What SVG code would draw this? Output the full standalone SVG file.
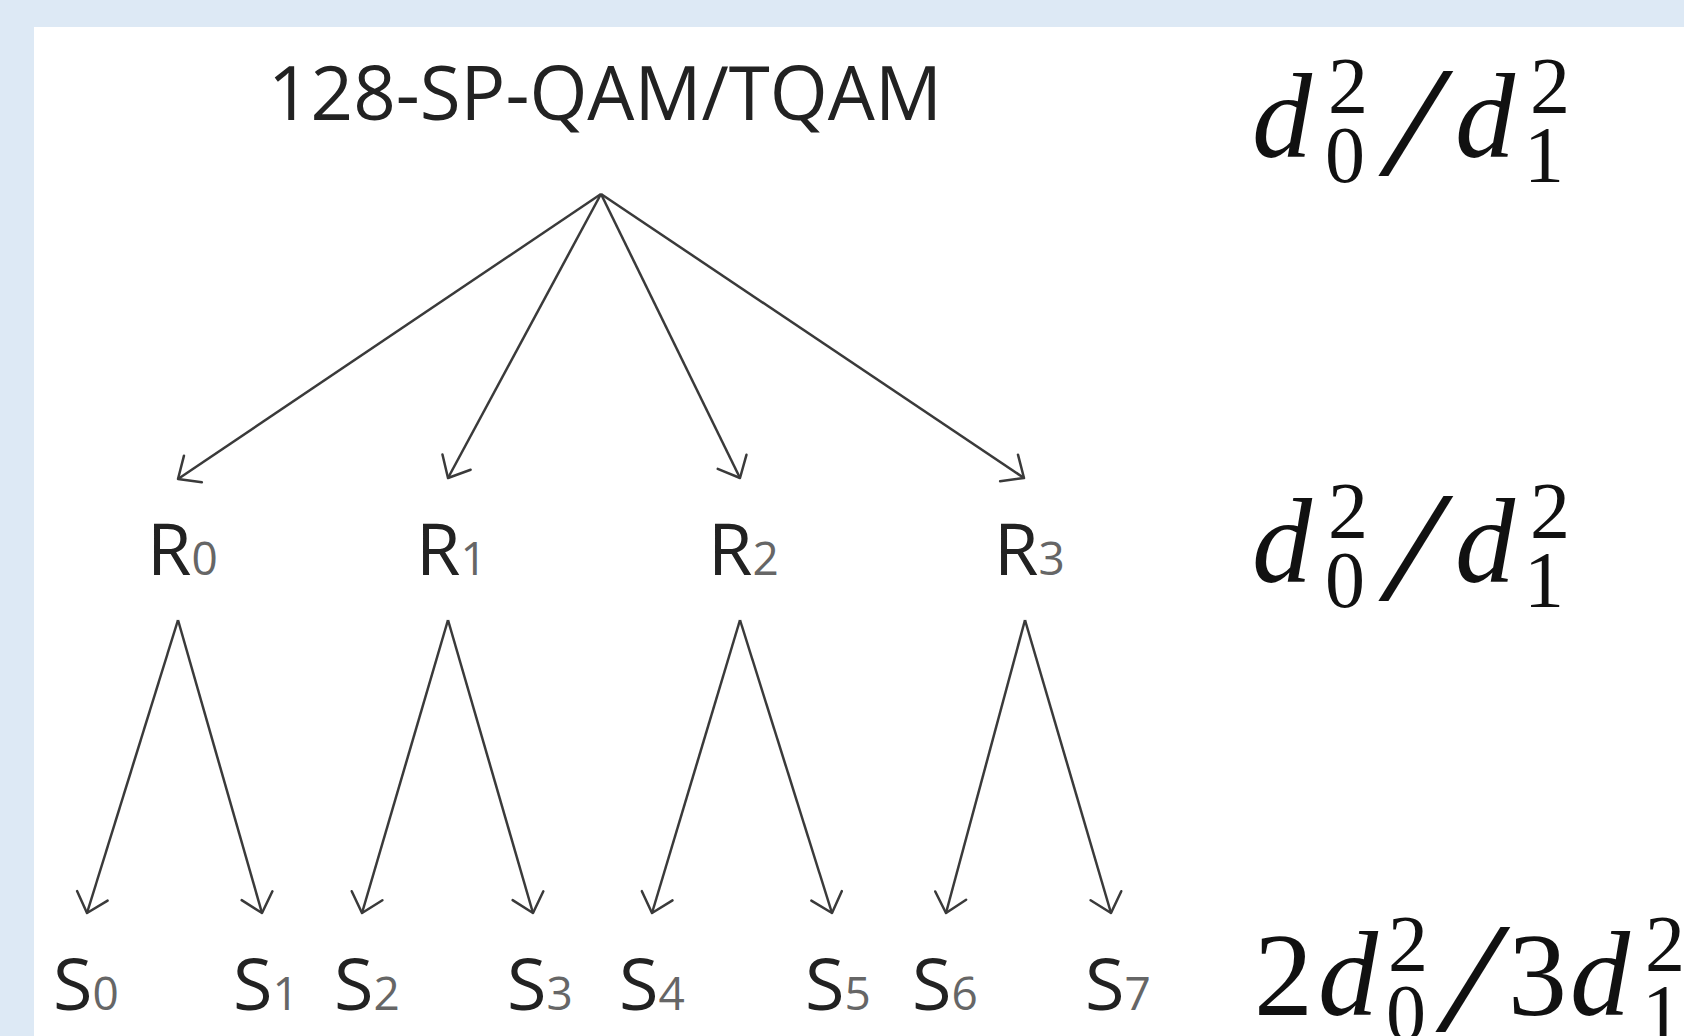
<svg xmlns="http://www.w3.org/2000/svg" width="1684" height="1036" viewBox="0 0 1684 1036">
<style>
.lbl{font-family:"Open Sans","Noto Sans",sans-serif;fill:#222;}
.main{font-size:72px;}
.sub{font-size:46px;fill:#666;}
.title{font-size:74.5px;}
.conn line{stroke:#3a3a3a;stroke-width:2.5;fill:none;marker-end:url(#arr);}
.math{font-family:"Liberation Serif","Times New Roman",serif;fill:#111;}
.mi{font-style:italic;font-size:120px;}
.mn{font-size:118px;}
.ms{font-size:80px;}
.sl{font-size:156px;font-style:italic;}
</style>
<defs>
<marker id="arr" markerUnits="userSpaceOnUse" viewBox="-22 -22 26 44" markerWidth="26" markerHeight="44" refX="0" refY="0" orient="auto" overflow="visible">
<path d="M -18 -16 L 0 0 L -18 16" fill="none" stroke="#3a3a3a" stroke-width="2.5" stroke-linecap="round" stroke-linejoin="round"/>
</marker>
</defs>
<rect x="0" y="0" width="1684" height="1036" fill="#dde9f5"/>
<rect x="34" y="27" width="1650" height="1009" fill="#ffffff"/>

<g id="root"><text class="lbl title" x="268" y="120">128-SP-QAM/TQAM</text></g>

<g id="R0"><text class="lbl main" x="147" y="575">R<tspan class="sub">0</tspan></text></g>
<g id="R1"><text class="lbl main" x="416" y="575">R<tspan class="sub">1</tspan></text></g>
<g id="R2"><text class="lbl main" x="708" y="575">R<tspan class="sub">2</tspan></text></g>
<g id="R3"><text class="lbl main" x="994" y="575">R<tspan class="sub">3</tspan></text></g>

<g id="S0"><text class="lbl main" x="53" y="1010">S<tspan class="sub">0</tspan></text></g>
<g id="S1"><text class="lbl main" x="233" y="1010">S<tspan class="sub">1</tspan></text></g>
<g id="S2"><text class="lbl main" x="334" y="1010">S<tspan class="sub">2</tspan></text></g>
<g id="S3"><text class="lbl main" x="507" y="1010">S<tspan class="sub">3</tspan></text></g>
<g id="S4"><text class="lbl main" x="619" y="1010">S<tspan class="sub">4</tspan></text></g>
<g id="S5"><text class="lbl main" x="805" y="1010">S<tspan class="sub">5</tspan></text></g>
<g id="S6"><text class="lbl main" x="912" y="1010">S<tspan class="sub">6</tspan></text></g>
<g id="S7"><text class="lbl main" x="1085" y="1010">S<tspan class="sub">7</tspan></text></g>

<g id="connectors" class="conn">
<line x1="601" y1="194" x2="178" y2="479"/>
<line x1="601" y1="194" x2="448" y2="478"/>
<line x1="601" y1="194" x2="740" y2="478"/>
<line x1="601" y1="194" x2="1024" y2="478"/>
<line x1="178" y1="620" x2="87" y2="913"/>
<line x1="178" y1="620" x2="262" y2="913"/>
<line x1="448" y1="620" x2="362" y2="913"/>
<line x1="448" y1="620" x2="533" y2="913"/>
<line x1="740" y1="620" x2="652" y2="913"/>
<line x1="740" y1="620" x2="832" y2="913"/>
<line x1="1025" y1="620" x2="946" y2="913"/>
<line x1="1025" y1="620" x2="1111" y2="913"/>
</g>

<g id="ratio1" class="math">
<text class="mi" x="1252" y="157">d</text>
<text class="ms" x="1328" y="113">2</text>
<text class="ms" x="1325" y="182">0</text>
<text class="sl" transform="translate(1387,174) scale(1.2,1)">/</text>
<text class="mi" x="1455" y="157">d</text>
<text class="ms" x="1530" y="113">2</text>
<text class="ms" x="1524" y="182">1</text>
</g>
<g id="ratio2" class="math">
<text class="mi" x="1252" y="582">d</text>
<text class="ms" x="1328" y="538">2</text>
<text class="ms" x="1325" y="607">0</text>
<text class="sl" transform="translate(1387,599) scale(1.2,1)">/</text>
<text class="mi" x="1455" y="582">d</text>
<text class="ms" x="1530" y="538">2</text>
<text class="ms" x="1524" y="607">1</text>
</g>
<g id="ratio3" class="math">
<text class="mn" x="1254" y="1015">2</text>
<text class="mi" x="1318" y="1015">d</text>
<text class="ms" x="1388" y="971">2</text>
<text class="ms" x="1386" y="1040">0</text>
<text class="sl" transform="translate(1444,1030) scale(1.2,1)">/</text>
<text class="mn" x="1508" y="1015">3</text>
<text class="mi" x="1570" y="1015">d</text>
<text class="ms" x="1645" y="971">2</text>
<text class="ms" x="1642" y="1040">1</text>
</g>
</svg>
